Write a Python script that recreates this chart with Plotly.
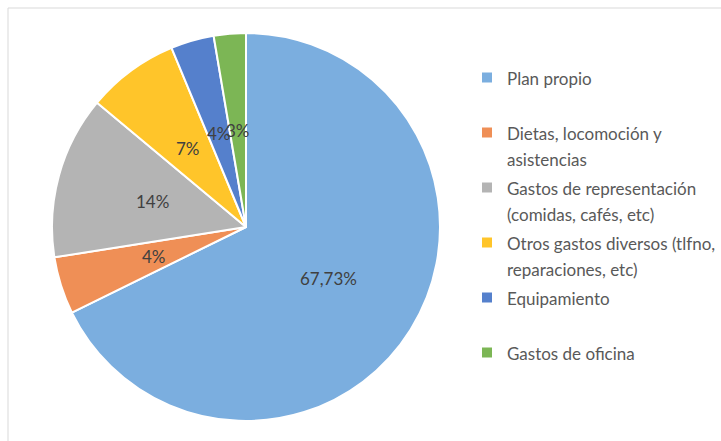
import math
import plotly.graph_objects as go

# ---- data ----
categories = [
    "Plan propio",
    "Dietas, locomoción y<br>asistencias",
    "Gastos de representación<br>(comidas, cafés, etc)",
    "Otros gastos diversos (tlfno,<br>reparaciones, etc)",
    "Equipamiento",
    "Gastos de oficina",
]
values = [67.73, 4.77, 13.57, 7.66, 3.60, 2.67]
value_labels = ["67,73%", "4%", "14%", "7%", "4%", "3%"]
colors = ["#7BAEDF", "#EF8F56", "#B4B4B4", "#FFC52A", "#5580CC", "#7CB655"]

W, H = 721, 441
dom_x = [52 / W, 440 / W]
dom_y = [1 - 422 / H, 1 - 32 / H]

# legend entries: single-line entries padded so every entry takes two lines
legend_text = []
for c in categories:
    t = c if "<br>" in c else c + "<br> "
    legend_text.append(f'<span style="font-size:17px">{t}</span>')

fig = go.Figure(
    go.Pie(
        labels=legend_text,
        values=values,
        sort=False,
        direction="clockwise",
        rotation=0,
        textinfo="none",
        hoverinfo="skip",
        marker=dict(colors=colors, line=dict(color="white", width=2)),
        domain=dict(x=dom_x, y=dom_y),
        showlegend=True,
    )
)

# data labels at half radius along each slice's mid angle (like Excel)
cx = (dom_x[0] + dom_x[1]) / 2 * W
cy = (1 - (dom_y[0] + dom_y[1]) / 2) * H
r = min((dom_x[1] - dom_x[0]) * W, (dom_y[1] - dom_y[0]) * H) / 2
total = sum(values)
cum = 0.0
annotations = []
for v, lab in zip(values, value_labels):
    mid = (cum + v / 2) / total * 2 * math.pi
    cum += v
    px = cx + 0.5 * r * math.sin(mid)
    py = cy - 0.5 * r * math.cos(mid)
    annotations.append(
        dict(
            x=px / W, y=1 - py / H, xref="paper", yref="paper",
            text=lab, showarrow=False,
            font=dict(family="Lato", size=17, color="#404040"),
            xanchor="center", yanchor="middle",
        )
    )

fig.update_layout(
    width=W, height=H,
    margin=dict(l=0, r=0, t=0, b=0),
    paper_bgcolor="white",
    plot_bgcolor="white",
    font=dict(family="Lato", color="#595959"),
    annotations=annotations,
    legend=dict(
        x=467 / W, y=1 - 58 / H, xanchor="left", yanchor="top",
        font=dict(family="Lato", size=20, color="#595959"),
        valign="top",
        bgcolor="rgba(0,0,0,0)",
    ),
    shapes=[
        dict(type="rect", xref="paper", yref="paper",
             x0=8 / W, x1=1.05, y0=-0.05, y1=1 - 8 / H,
             line=dict(color="#D9D9D9", width=1), fillcolor="rgba(0,0,0,0)",
             layer="below"),
    ],
)

fig.write_html(
    "out.html",
    config={"displayModeBar": False},
    post_script="document.body.style.margin='0px';document.body.style.overflow='hidden';",
)
